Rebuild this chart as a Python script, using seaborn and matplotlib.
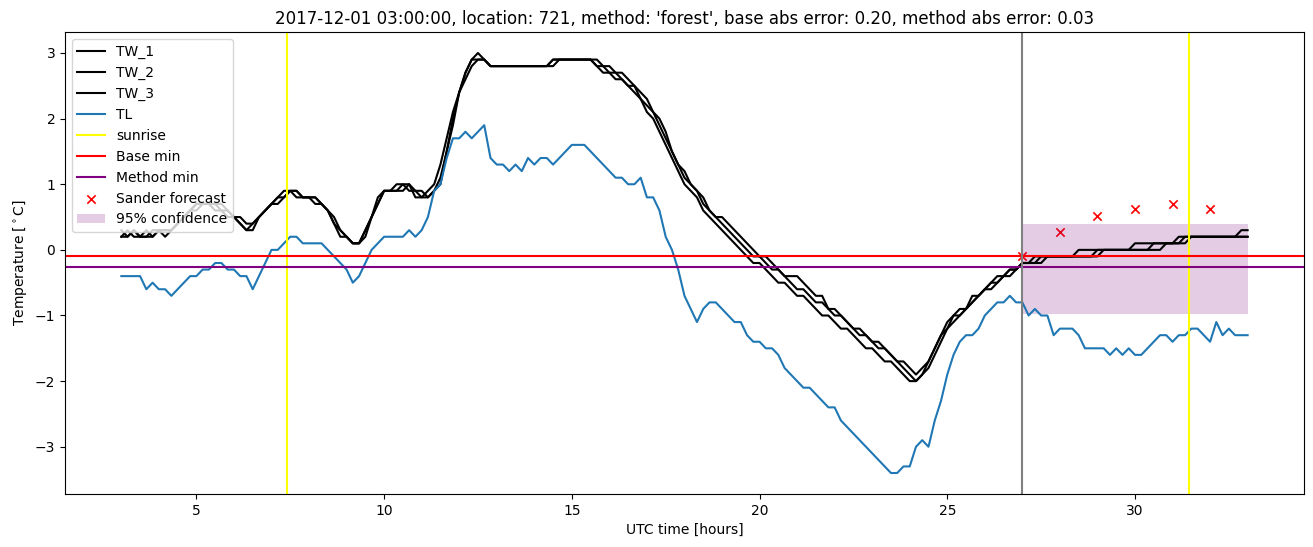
import numpy as np
import matplotlib
matplotlib.use("Agg")
import matplotlib.pyplot as plt
import seaborn as sns

# --- data (10 minute samples, 03:00 -> 33:00) ---
hours = np.linspace(3, 33, 181)

tw_1 = [
    0.2, 0.3, 0.2, 0.2, 0.2, 0.3,        # 3
    0.3, 0.3, 0.3, 0.4, 0.5, 0.6,        # 4
    0.7, 0.7, 0.7, 0.7, 0.7, 0.6,        # 5
    0.5, 0.4, 0.3, 0.3, 0.5, 0.6,        # 6
    0.7, 0.8, 0.8, 0.9, 0.9, 0.8,        # 7
    0.8, 0.8, 0.7, 0.6, 0.4, 0.3,        # 8
    0.2, 0.1, 0.1, 0.3, 0.5, 0.7,        # 9
    0.9, 0.9, 0.9, 1.0, 1.0, 0.8,        # 10
    0.8, 0.8, 0.9, 1.1, 1.5, 2.0,        # 11
    2.4, 2.7, 2.9, 3.0, 2.9, 2.8,        # 12
    2.8, 2.8, 2.8, 2.8, 2.8, 2.8,        # 13
    2.8, 2.8, 2.8, 2.9, 2.9, 2.9,        # 14
    2.9, 2.9, 2.9, 2.9, 2.9, 2.8,        # 15
    2.7, 2.7, 2.6, 2.5, 2.5, 2.3,        # 16
    2.2, 2.1, 1.9, 1.7, 1.5, 1.3,        # 17
    1.1, 1.0, 0.9, 0.7, 0.6, 0.5,        # 18
    0.4, 0.3, 0.2, 0.1, 0.0, -0.1,       # 19
    -0.1, -0.2, -0.3, -0.3, -0.4, -0.5,  # 20
    -0.6, -0.6, -0.7, -0.8, -0.8, -0.9,  # 21
    -1.0, -1.0, -1.1, -1.2, -1.3, -1.3,  # 22
    -1.4, -1.5, -1.5, -1.6, -1.7, -1.8,  # 23
    -1.9, -2.0, -1.9, -1.8, -1.6, -1.4,  # 24
    -1.2, -1.1, -1.0, -0.9, -0.8, -0.7,  # 25
    -0.6, -0.6, -0.5, -0.4, -0.4, -0.3,  # 26
    -0.2, -0.2, -0.1, -0.1, -0.1, -0.1,  # 27
    -0.1, -0.1, -0.1, 0.0, 0.0, 0.0,     # 28
    0.0, 0.0, 0.0, 0.0, 0.0, 0.0,        # 29
    0.1, 0.1, 0.1, 0.1, 0.1, 0.1,        # 30
    0.1, 0.2, 0.2, 0.2, 0.2, 0.2,        # 31
    0.2, 0.2, 0.2, 0.2, 0.2, 0.3,        # 32
    0.3,
]

tw_2 = [
    0.3, 0.2, 0.3, 0.2, 0.3, 0.2,
    0.3, 0.3, 0.3, 0.4, 0.5, 0.6,
    0.6, 0.7, 0.7, 0.7, 0.6, 0.6,
    0.5, 0.5, 0.4, 0.4, 0.5, 0.6,
    0.7, 0.7, 0.8, 0.9, 0.8, 0.8,
    0.8, 0.7, 0.7, 0.6, 0.5, 0.3,
    0.2, 0.1, 0.1, 0.2, 0.5, 0.7,
    0.9, 0.9, 1.0, 1.0, 0.9, 0.9,
    0.9, 0.8, 0.9, 1.0, 1.5, 1.9,
    2.4, 2.6, 2.8, 2.9, 2.9, 2.8,
    2.8, 2.8, 2.8, 2.8, 2.8, 2.8,
    2.8, 2.8, 2.8, 2.8, 2.9, 2.9,
    2.9, 2.9, 2.9, 2.9, 2.8, 2.8,
    2.8, 2.7, 2.7, 2.6, 2.5, 2.4,
    2.3, 2.1, 2.0, 1.8, 1.5, 1.3,
    1.2, 1.0, 0.9, 0.8, 0.6, 0.5,
    0.5, 0.4, 0.3, 0.2, 0.1, 0.0,
    -0.1, -0.1, -0.2, -0.3, -0.4, -0.4,
    -0.4, -0.5, -0.6, -0.7, -0.7, -0.9,
    -0.9, -1.0, -1.1, -1.2, -1.2, -1.3,
    -1.4, -1.4, -1.5, -1.6, -1.7, -1.7,
    -1.8, -1.9, -1.8, -1.7, -1.5, -1.3,
    -1.2, -1.0, -0.9, -0.9, -0.8, -0.7,
    -0.6, -0.5, -0.5, -0.4, -0.3, -0.3,
    -0.2, -0.2, -0.2, -0.1, -0.1, -0.1,
    -0.1, -0.1, -0.1, -0.1, -0.1, -0.1,
    0.0, 0.0, 0.0, 0.0, 0.0, 0.0,
    0.0, 0.0, 0.0, 0.0, 0.0, 0.1,
    0.1, 0.1, 0.1, 0.2, 0.2, 0.2,
    0.2, 0.2, 0.2, 0.2, 0.2, 0.2,
    0.2,
]

tw_3 = [
    0.2, 0.2, 0.3, 0.2, 0.2, 0.2,
    0.3, 0.2, 0.3, 0.4, 0.5, 0.6,
    0.7, 0.7, 0.7, 0.6, 0.6, 0.5,
    0.5, 0.4, 0.3, 0.4, 0.5, 0.6,
    0.7, 0.8, 0.9, 0.9, 0.9, 0.8,
    0.8, 0.8, 0.7, 0.6, 0.4, 0.2,
    0.2, 0.1, 0.1, 0.3, 0.5, 0.8,
    0.9, 0.9, 0.9, 0.9, 1.0, 0.9,
    0.8, 0.9, 1.0, 1.3, 1.7, 2.1,
    2.4, 2.7, 2.9, 2.9, 2.9, 2.8,
    2.8, 2.8, 2.8, 2.8, 2.8, 2.8,
    2.8, 2.8, 2.8, 2.9, 2.9, 2.9,
    2.9, 2.9, 2.9, 2.9, 2.8, 2.7,
    2.7, 2.6, 2.6, 2.5, 2.4, 2.3,
    2.1, 2.0, 1.8, 1.6, 1.4, 1.2,
    1.0, 0.9, 0.8, 0.6, 0.5, 0.4,
    0.3, 0.2, 0.1, 0.0, -0.1, -0.2,
    -0.2, -0.3, -0.4, -0.5, -0.5, -0.6,
    -0.7, -0.7, -0.8, -0.9, -1.0, -1.0,
    -1.1, -1.2, -1.2, -1.3, -1.4, -1.5,
    -1.5, -1.6, -1.7, -1.7, -1.8, -1.9,
    -2.0, -2.0, -1.9, -1.7, -1.5, -1.3,
    -1.1, -1.0, -1.0, -0.9, -0.7, -0.7,
    -0.6, -0.5, -0.4, -0.4, -0.3, -0.3,
    -0.2, -0.2, -0.2, -0.2, -0.1, -0.1,
    -0.1, -0.1, -0.1, -0.1, -0.1, -0.1,
    -0.1, 0.0, 0.0, 0.0, 0.0, 0.0,
    0.0, 0.0, 0.0, 0.1, 0.1, 0.1,
    0.1, 0.1, 0.2, 0.2, 0.2, 0.2,
    0.2, 0.2, 0.2, 0.2, 0.2, 0.2,
    0.2,
]

tl = [
    -0.4, -0.4, -0.4, -0.4, -0.6, -0.5,  # 3
    -0.6, -0.6, -0.7, -0.6, -0.5, -0.4,  # 4
    -0.4, -0.3, -0.3, -0.2, -0.2, -0.3,  # 5
    -0.3, -0.4, -0.4, -0.6, -0.4, -0.2,  # 6
    0.0, 0.0, 0.1, 0.2, 0.2, 0.1,        # 7
    0.1, 0.1, 0.1, 0.0, -0.1, -0.2,      # 8
    -0.3, -0.5, -0.4, -0.2, 0.0, 0.1,    # 9
    0.2, 0.2, 0.2, 0.2, 0.3, 0.2,        # 10
    0.3, 0.5, 0.9, 1.0, 1.4, 1.7,        # 11
    1.7, 1.8, 1.7, 1.8, 1.9, 1.4,        # 12
    1.3, 1.3, 1.2, 1.3, 1.2, 1.4,        # 13
    1.3, 1.4, 1.4, 1.3, 1.4, 1.5,        # 14
    1.6, 1.6, 1.6, 1.5, 1.4, 1.3,        # 15
    1.2, 1.1, 1.1, 1.0, 1.0, 1.1,        # 16
    0.8, 0.8, 0.6, 0.2, 0.0, -0.3,       # 17
    -0.7, -0.9, -1.1, -0.9, -0.8, -0.8,  # 18
    -0.9, -1.0, -1.1, -1.1, -1.3, -1.4,  # 19
    -1.4, -1.5, -1.5, -1.6, -1.8, -1.9,  # 20
    -2.0, -2.1, -2.1, -2.2, -2.3, -2.4,  # 21
    -2.4, -2.6, -2.7, -2.8, -2.9, -3.0,  # 22
    -3.1, -3.2, -3.3, -3.4, -3.4, -3.3,  # 23
    -3.3, -3.0, -2.9, -3.0, -2.6, -2.3,  # 24
    -1.9, -1.6, -1.4, -1.3, -1.3, -1.2,  # 25
    -1.0, -0.9, -0.8, -0.8, -0.7, -0.8,  # 26
    -0.8, -1.0, -0.9, -1.0, -1.0, -1.3,  # 27
    -1.2, -1.2, -1.2, -1.3, -1.5, -1.5,  # 28
    -1.5, -1.5, -1.6, -1.5, -1.6, -1.5,  # 29
    -1.6, -1.6, -1.5, -1.4, -1.3, -1.3,  # 30
    -1.4, -1.3, -1.3, -1.2, -1.2, -1.3,  # 31
    -1.4, -1.1, -1.3, -1.2, -1.3, -1.3,  # 32
    -1.3,
]

sunrise = [7.42, 31.43]
forecast_start = 27.0
base_min = -0.09
method_min = -0.26

forecast_hours = [27, 28, 29, 30, 31, 32]
forecast_vals = [-0.09, 0.27, 0.52, 0.63, 0.70, 0.62]

conf_hours = [27, 33]
conf_low = [-0.98, -0.98]
conf_high = [0.40, 0.40]

title = ("2017-12-01 03:00:00, location: 721, method: 'forest', "
         "base abs error: 0.20, method abs error: 0.03")

# --- plot ---
fig, ax = plt.subplots(figsize=(13.13, 5.47), dpi=100)

for name, vals in [("TW_1", tw_1), ("TW_2", tw_2), ("TW_3", tw_3)]:
    sns.lineplot(x=hours, y=vals, color="black", label=name, ax=ax)
sns.lineplot(x=hours, y=tl, color="#1f77b4", label="TL", ax=ax)

ax.axvline(sunrise[0], color="yellow", label="sunrise")
ax.axvline(sunrise[1], color="yellow")
ax.axhline(base_min, color="red", label="Base min")
ax.axhline(method_min, color="purple", label="Method min")
ax.axvline(forecast_start, color="gray")

sns.scatterplot(x=forecast_hours, y=forecast_vals, marker="x", color="red",
                s=36, linewidth=1.2, label="Sander forecast", ax=ax)
ax.fill_between(conf_hours, conf_low, conf_high, color="purple", alpha=0.2,
                linewidth=0, label="95% confidence")

ax.set_title(title)
ax.set_xlabel("UTC time [hours]")
ax.set_ylabel("Temperature [$^\\circ$C]")
ax.legend(loc="upper left")

plt.subplots_adjust(left=0.0495, right=0.9931, top=0.9415, bottom=0.0969)
plt.savefig("out.png", dpi=100)
plt.close()
